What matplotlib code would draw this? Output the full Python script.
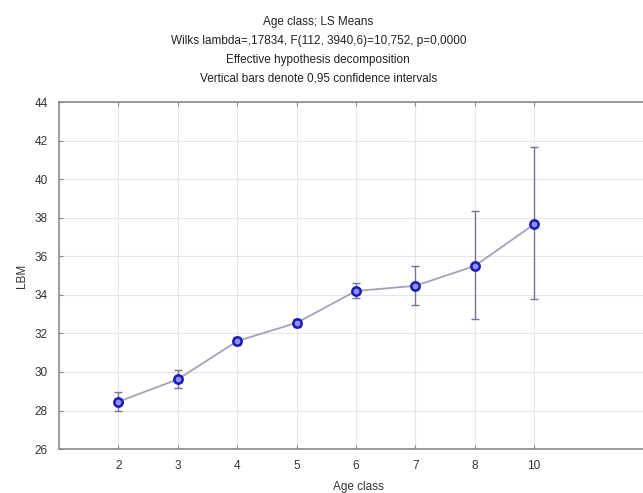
import matplotlib
matplotlib.use('Agg')
import matplotlib.pyplot as plt

plt.rcParams['font.family'] = ['Liberation Sans', 'DejaVu Sans']

age_class = ['2', '3', '4', '5', '6', '7', '8', '10']
lbm_mean = [28.46, 29.62, 31.6, 32.55, 34.2, 34.47, 35.5, 37.66]
ci_low = [28.0, 29.17, 31.4, 32.35, 33.83, 33.47, 32.74, 33.77]
ci_high = [28.96, 30.1, 31.8, 32.75, 34.63, 35.5, 38.36, 41.68]

x = list(range(1, len(age_class) + 1))
err_lo = [m - l for m, l in zip(lbm_mean, ci_low)]
err_hi = [h - m for m, h in zip(lbm_mean, ci_high)]

fig = plt.figure(figsize=(6.43, 4.93), dpi=100)
ax = fig.add_axes([0.0918, 0.089, 0.93, 0.704])

ax.errorbar(x, lbm_mean, yerr=[err_lo, err_hi], fmt='none', ecolor='#74748e',
            elinewidth=1.0, capsize=3, capthick=1.0, zorder=2)
ax.plot(x, lbm_mean, color='#a4a2b8', linewidth=1.3, zorder=3)
ax.plot(x, lbm_mean, linestyle='none', marker='o', markersize=6,
        markerfacecolor='#9090f0', markeredgecolor='#1a1ab4', markeredgewidth=1.8, zorder=4)

ax.set_xlim(0, 10.07)
ax.set_ylim(26, 44)
ax.set_xticks(x)
ax.set_xticklabels(age_class)
ax.set_yticks(range(26, 45, 2))
ax.grid(True, color='#e6e6e6', linewidth=0.8)
ax.set_axisbelow(True)
for s in ax.spines.values():
    s.set_color('#8a8a8a')
    s.set_linewidth(1.2)
ax.spines['right'].set_visible(False)
ax.tick_params(direction='in', length=3, color='#8a8a8a', labelsize=8.5,
               labelcolor='#333333', top=True, pad=8)
ax.set_xlabel('Age class', fontsize=8.5, color='#333333', labelpad=6)
ax.set_ylabel('LBM', fontsize=8.5, color='#333333', labelpad=5)

title = ('Age class; LS Means\n'
         'Wilks lambda=,17834, F(112, 3940,6)=10,752, p=0,0000\n'
         'Effective hypothesis decomposition\n'
         'Vertical bars denote 0,95 confidence intervals')
fig.text(0.495, 0.967, title, ha='center', va='top', fontsize=8.5,
         color='#222222', linespacing=1.75)

plt.savefig('out.png')
plt.close()
